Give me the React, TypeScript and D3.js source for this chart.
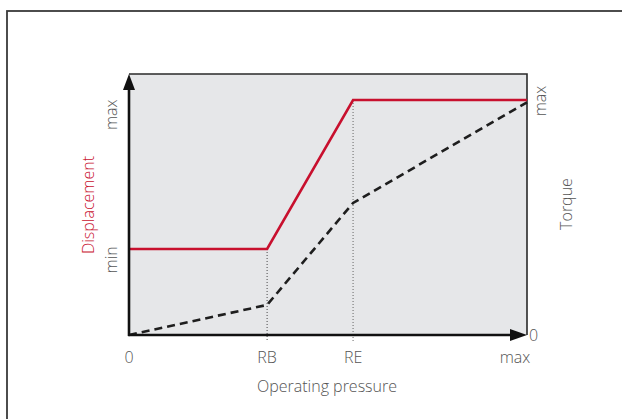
import React from "react";
import * as d3 from "d3";

// x positions (fraction of operating pressure range)
const xTickLabels = ["0", "RB", "RE", "max"];
const xTickValues = [0, 0.347, 0.563, 1];

// Displacement (red) curve: pressure -> displacement
const dispX = [0, 0.347, 0.563, 1];
const dispY = [0.366, 0.366, 1, 1];

// Torque (dashed) curve
const torqueX = [0, 0.347, 0.563, 1];
const torqueY = [0, 0.128, 0.562, 0.99];

const leftLabels = [
  { text: "max", v: 0.937 },
  { text: "min", v: 0.32 },
];

const W = 622;
const H = 419;
const plot = { left: 129, right: 527, top: 74, bottom: 335 };

export default function App() {
  const x = d3.scaleLinear().domain([0, 1]).range([plot.left, plot.right]);
  const y = d3.scaleLinear().domain([0, 1]).range([plot.bottom, 100]);

  const line = d3
    .line<[number, number]>()
    .x((d) => x(d[0]))
    .y((d) => y(d[1]));

  const dispPts: [number, number][] = dispX.map((v, i) => [v, dispY[i]]);
  const torquePts: [number, number][] = torqueX.map((v, i) => [v, torqueY[i]]);

  const font = "'Open Sans', sans-serif";
  const txt = "#555";

  return (
    <svg
      width={W}
      height={H}
      style={{ position: "absolute", left: 0, top: 0 }}
      fontFamily={font}
    >
      <rect x={0} y={0} width={W} height={H} fill="#fff" />
      {/* outer frame */}
      <rect x={7} y={11} width={700} height={500} fill="none" stroke="#3a3a3a" strokeWidth={1.8} />

      {/* plot background */}
      <rect
        x={plot.left}
        y={plot.top}
        width={plot.right - plot.left}
        height={plot.bottom - plot.top}
        fill="#e6e7e9"
      />
      {/* top & right border */}
      <path
        d={`M${plot.left},${plot.top}H${plot.right}V${plot.bottom}`}
        fill="none"
        stroke="#2a2a2a"
        strokeWidth={1.6}
      />

      {/* vertical dotted guides */}
      <line x1={x(xTickValues[1])} x2={x(xTickValues[1])} y1={y(dispY[1])} y2={342} stroke="#444" strokeWidth={1} strokeDasharray="1,2" />
      <line x1={x(xTickValues[2])} x2={x(xTickValues[2])} y1={y(dispY[2])} y2={342} stroke="#666" strokeWidth={1} strokeDasharray="1,2" />

      {/* torque dashed */}
      <path d={line(torquePts) || ""} fill="none" stroke="#1e1e1e" strokeWidth={2.6} strokeDasharray="8,5" />
      {/* displacement red */}
      <path d={line(dispPts) || ""} fill="none" stroke="#c8102e" strokeWidth={2.6} />

      {/* axes */}
      <line x1={plot.left} x2={plot.left} y1={plot.bottom + 1} y2={plot.top + 6} stroke="#111" strokeWidth={2.6} />
      <path d={`M${plot.left},${plot.top}L${plot.left - 6},${plot.top + 16}L${plot.left + 6},${plot.top + 16}Z`} fill="#111" />
      <line x1={plot.left - 1} x2={plot.right - 6} y1={plot.bottom} y2={plot.bottom} stroke="#111" strokeWidth={2.6} />
      <path d={`M${plot.right},${plot.bottom}L${plot.right - 17},${plot.bottom - 6}L${plot.right - 17},${plot.bottom + 6}Z`} fill="#111" />

      {/* x tick labels */}
      {xTickLabels.map((t, i) => (
        <text
          key={t}
          x={i === 3 ? 515 : x(xTickValues[i])}
          y={363}
          textAnchor="middle"
          fontSize={16}
          fontWeight={300}
          fill={txt}
        >
          {t}
        </text>
      ))}
      <text x={327} y={392} textAnchor="middle" fontSize={16} fontWeight={300} fill={txt}>
        Operating pressure
      </text>

      {/* left labels */}
      {leftLabels.map((l) => (
        <text
          key={l.text}
          transform={`translate(117,${y(l.v)}) rotate(-90)`}
          textAnchor="middle"
          fontSize={16}
          fontWeight={300}
          fill={txt}
        >
          {l.text}
        </text>
      ))}
      <text transform={`translate(94,205) rotate(-90)`} textAnchor="middle" fontSize={16} fontWeight={300} fill="#c8102e">
        Displacement
      </text>

      {/* right labels */}
      <text transform={`translate(546,101) rotate(-90)`} textAnchor="middle" fontSize={16} fontWeight={300} fill={txt}>
        max
      </text>
      <text transform={`translate(572,204) rotate(-90)`} textAnchor="middle" fontSize={16} fontWeight={300} fill={txt}>
        Torque
      </text>
      <text x={529} y={341} fontSize={16} fontWeight={300} fill={txt}>
        0
      </text>
    </svg>
  );
}
